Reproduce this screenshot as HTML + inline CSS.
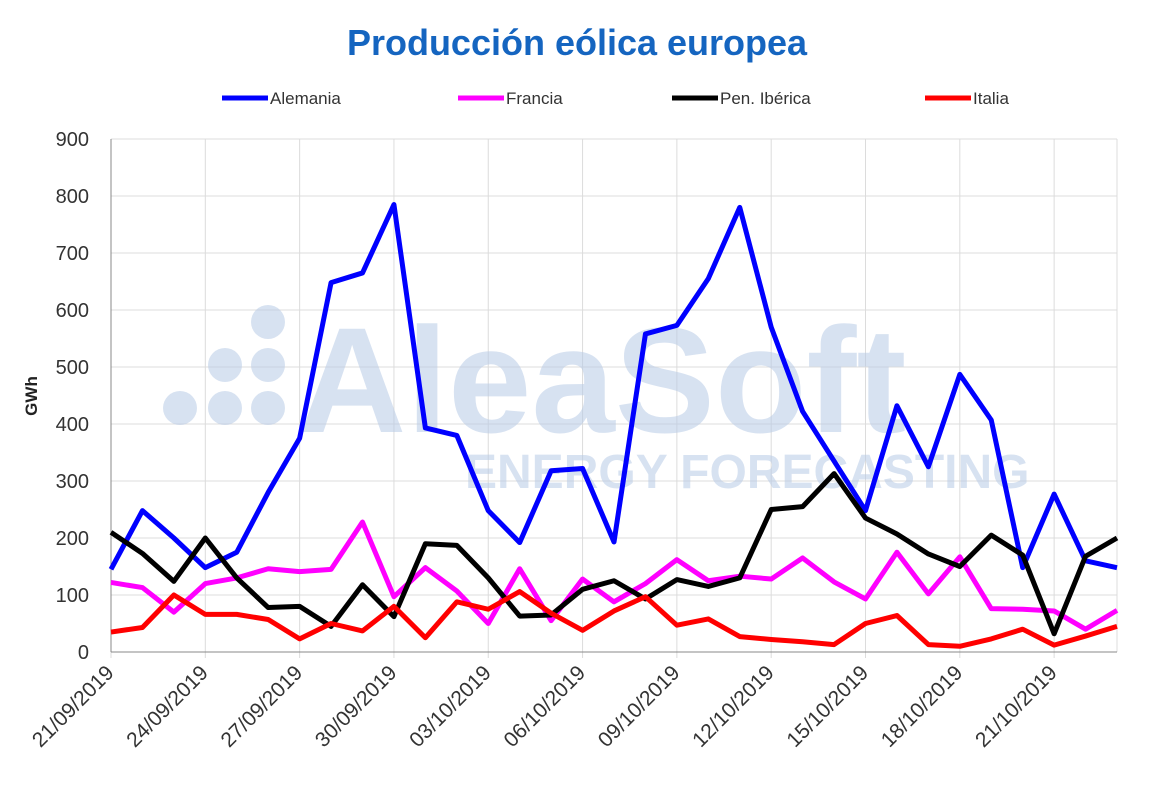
<!DOCTYPE html>
<html><head><meta charset="utf-8"><style>body{margin:0;background:#fff}svg{display:block}</style></head><body>
<svg width="1154" height="803" xmlns="http://www.w3.org/2000/svg" font-family="Liberation Sans, sans-serif">
<rect width="1154" height="803" fill="#fff"/>
<text x="577" y="55" text-anchor="middle" font-size="36" font-weight="bold" fill="#1565c0">Producción eólica europea</text>
<g font-size="17" fill="#333">
<line x1="222" y1="98" x2="268" y2="98" stroke="#0000ff" stroke-width="5"/><text x="270" y="104">Alemania</text>
<line x1="458" y1="98" x2="504" y2="98" stroke="#ff00ff" stroke-width="5"/><text x="506" y="104">Francia</text>
<line x1="672" y1="98" x2="718" y2="98" stroke="#000" stroke-width="5"/><text x="720" y="104">Pen. Ibérica</text>
<line x1="925" y1="98" x2="971" y2="98" stroke="#ff0000" stroke-width="5"/><text x="973" y="104">Italia</text>
</g>
<g id="grid" stroke="#dcdcdc" stroke-width="1"></g>
<g opacity="0.55" fill="#b8cbe6">
<circle cx="268" cy="322" r="17"/><circle cx="225" cy="365" r="17"/><circle cx="268" cy="365" r="17"/><circle cx="180" cy="408" r="17"/><circle cx="225" cy="408" r="17"/><circle cx="268" cy="408" r="17"/>
<text x="298" y="432" font-size="150" font-weight="bold">AleaSoft</text>
<text x="465" y="488" font-size="48" font-weight="bold">ENERGY FORECASTING</text>
</g>
<line x1="111" y1="139" x2="111" y2="652" stroke="#888"/>
<line x1="111" y1="652" x2="1117" y2="652" stroke="#888"/>
<g font-size="20" fill="#333" text-anchor="end" id="yl"></g>
<text transform="translate(37,396) rotate(-90)" text-anchor="middle" font-size="17" font-weight="bold" fill="#222">GWh</text>
<g id="xl" font-size="21" fill="#333" text-anchor="end"></g>
<g id="series" fill="none" stroke-width="5" stroke-linejoin="round"></g>
<script>
var ns="http://www.w3.org/2000/svg";
function X(i){return 111+i*1006/32}function Y(v){return 652-v*0.57}
var g=document.getElementById('grid'),yl=document.getElementById('yl'),xl=document.getElementById('xl');
for(var v=100;v<=900;v+=100){var l=document.createElementNS(ns,'line');l.setAttribute('x1',111);l.setAttribute('x2',1117);l.setAttribute('y1',Y(v));l.setAttribute('y2',Y(v));g.appendChild(l);}
for(var v=0;v<=900;v+=100){var t=document.createElementNS(ns,'text');t.setAttribute('x',89);t.setAttribute('y',Y(v)+7);t.textContent=v;yl.appendChild(t);}
var d=['21/09/2019','24/09/2019','27/09/2019','30/09/2019','03/10/2019','06/10/2019','09/10/2019','12/10/2019','15/10/2019','18/10/2019','21/10/2019'];
for(var k=0;k<11;k++){var x=X(k*3);var l=document.createElementNS(ns,'line');l.setAttribute('x1',x);l.setAttribute('x2',x);l.setAttribute('y1',139);l.setAttribute('y2',658);g.appendChild(l);
var t=document.createElementNS(ns,'text');t.setAttribute('transform','translate('+(x+4)+',674) rotate(-45)');t.textContent=d[k];xl.appendChild(t);}
var l=document.createElementNS(ns,'line');l.setAttribute('x1',1117);l.setAttribute('x2',1117);l.setAttribute('y1',139);l.setAttribute('y2',652);g.appendChild(l);
var S=[
['#0000ff',[145,248,200,148,175,280,375,648,665,785,393,380,248,192,318,322,193,558,573,655,780,570,422,335,248,432,325,487,407,148,277,160,148]],
['#ff00ff',[122,113,70,120,130,146,141,145,228,97,148,107,50,146,55,128,88,120,162,125,133,128,165,123,93,175,102,167,76,75,72,40,73]],
['#000000',[210,173,124,200,130,78,80,45,118,62,190,187,130,63,65,110,125,93,127,115,130,250,255,313,235,207,172,150,205,170,32,168,200]],
['#ff0000',[35,43,100,66,66,57,23,50,37,80,25,88,75,106,68,38,72,97,47,58,27,22,18,13,50,64,13,10,23,40,12,28,45]]];
var sg=document.getElementById('series');
S.forEach(function(s){var p=document.createElementNS(ns,'polyline');p.setAttribute('stroke',s[0]);p.setAttribute('points',s[1].map(function(v,i){return X(i)+','+Y(v)}).join(' '));sg.appendChild(p);});
</script>
</svg>
</body></html>
